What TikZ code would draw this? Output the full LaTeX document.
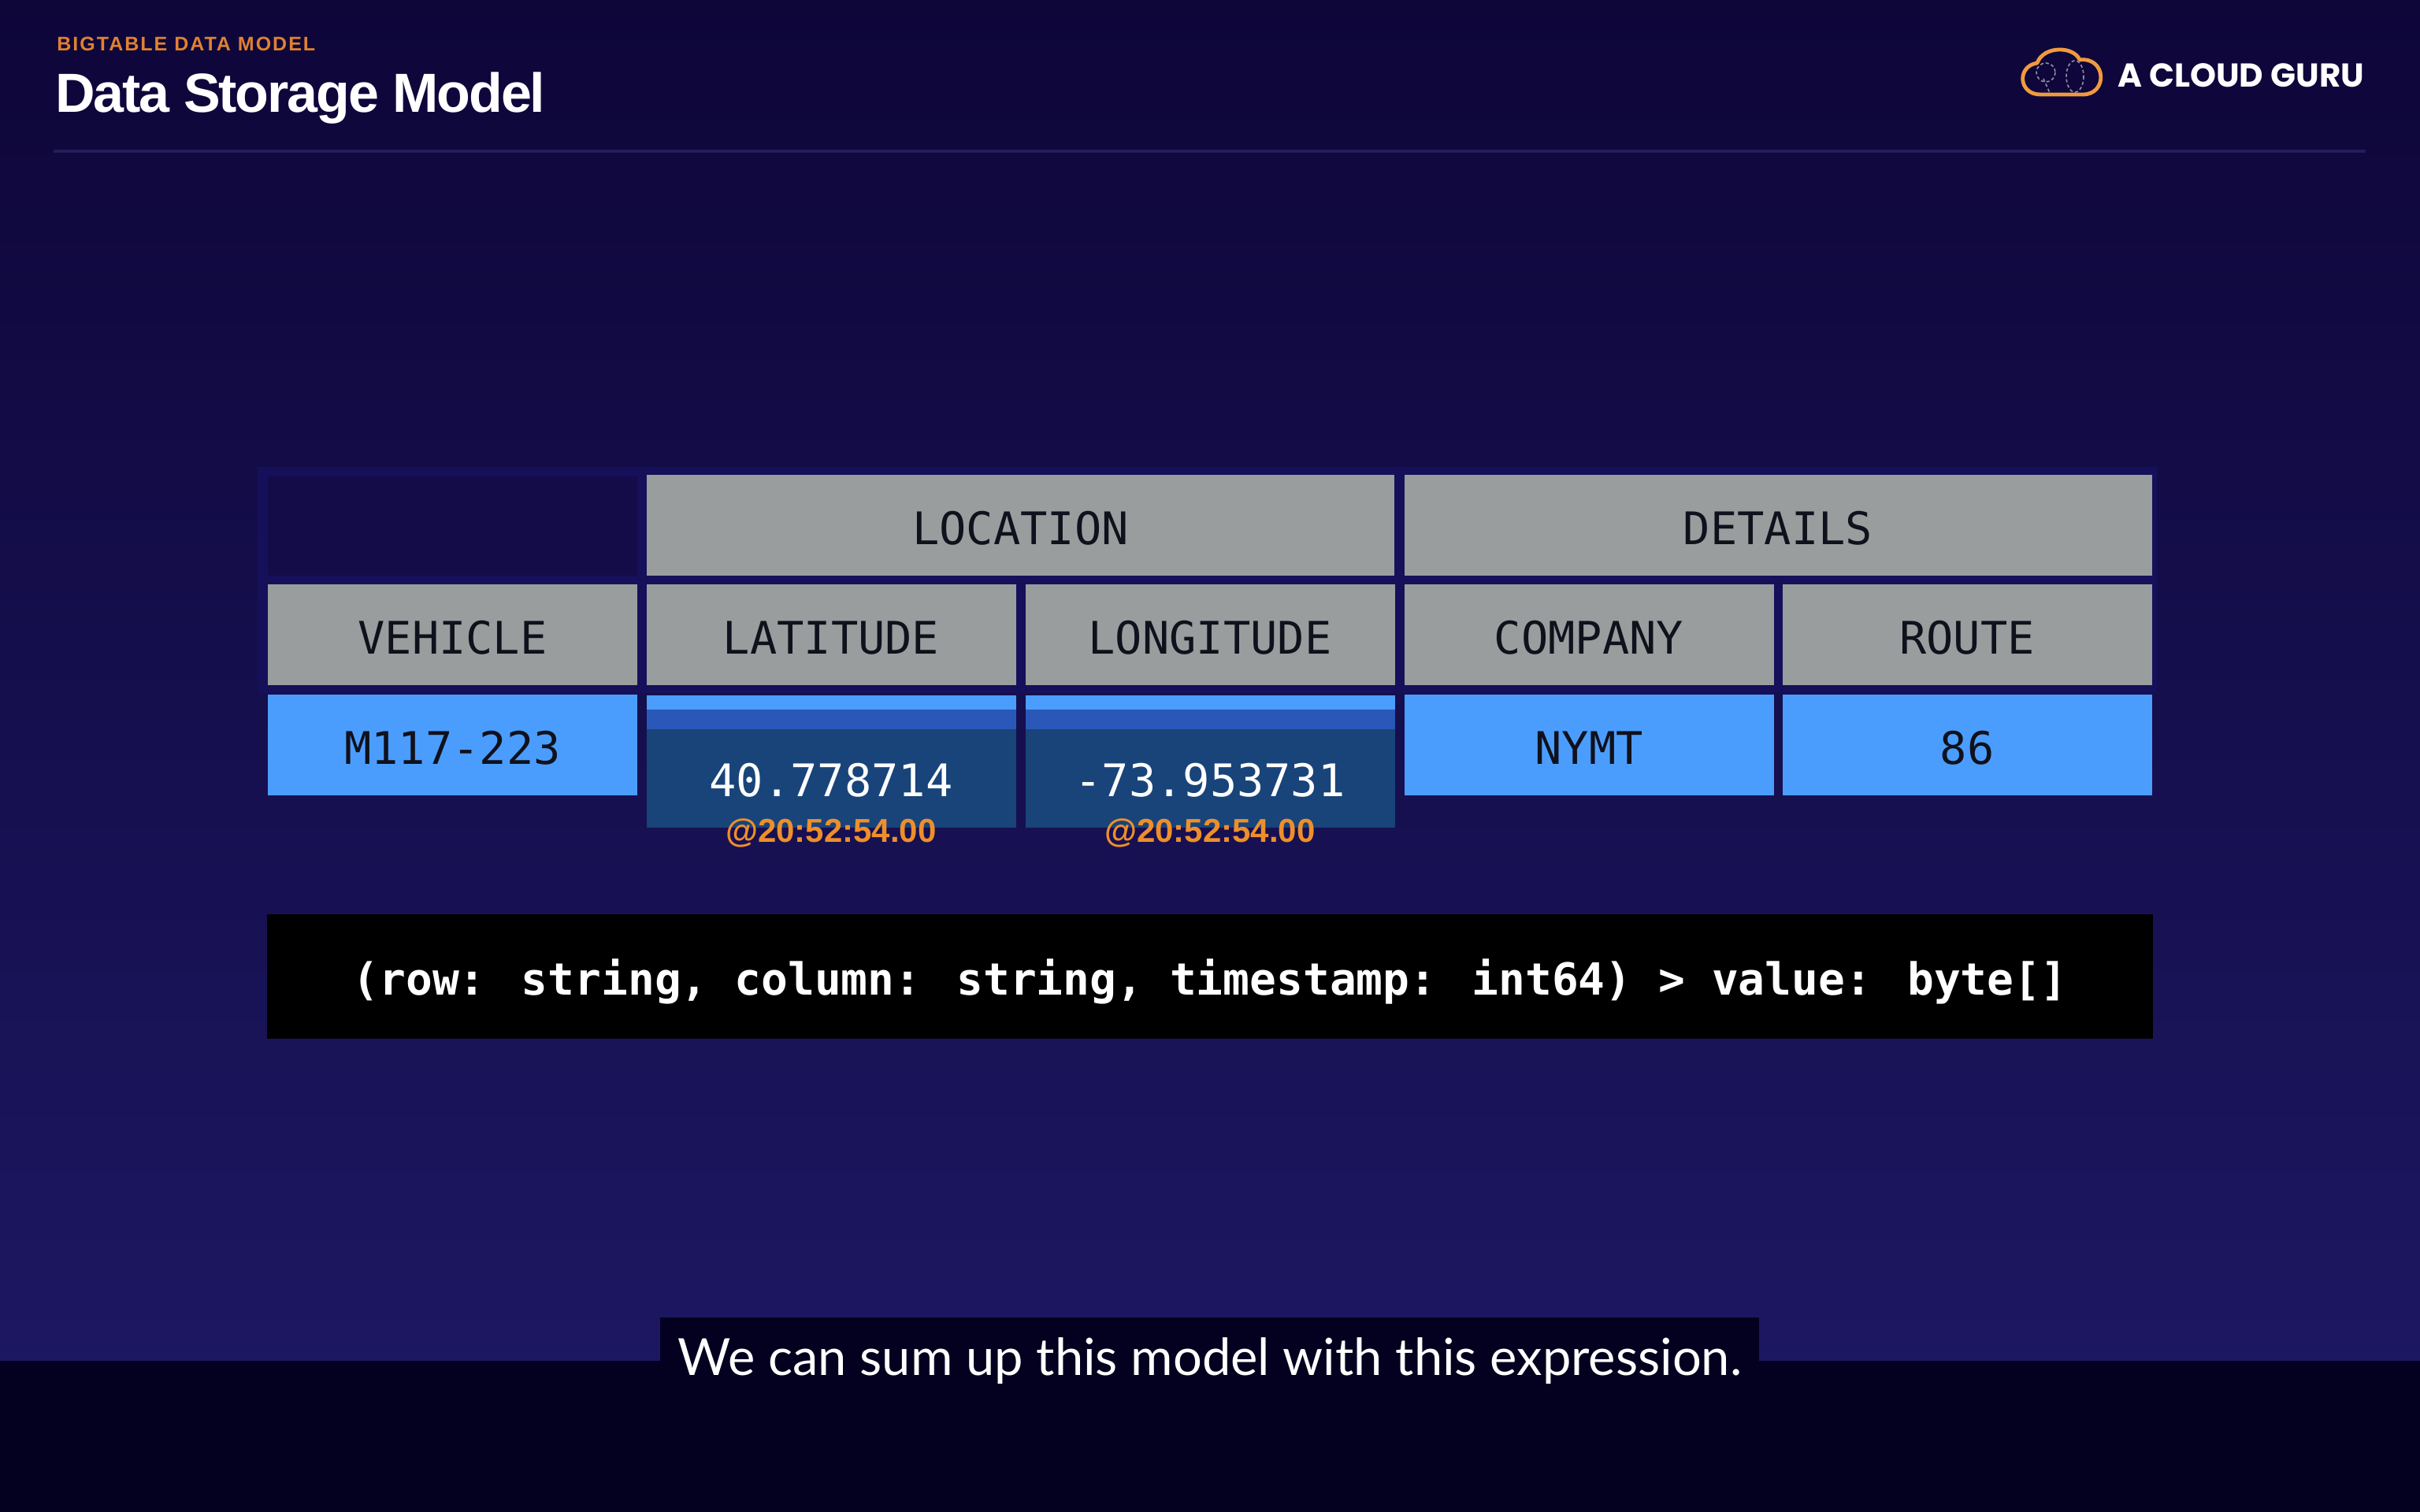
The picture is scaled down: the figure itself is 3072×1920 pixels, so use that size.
\documentclass[tikz,border=0pt]{standalone}
\usepackage{fontspec}
\setmainfont{Liberation Sans}
\newfontfamily\monof{DejaVu Sans Mono}
\newfontfamily\titlef[LetterSpace=-3]{Liberation Sans}
\newfontfamily\kickerf[LetterSpace=8]{Liberation Sans}
\newfontfamily\logof{Poppins}
\newfontfamily\capf{Lato}
\usetikzlibrary{calc}
\definecolor{bgtop}{HTML}{0E0639}
\definecolor{bgbot}{HTML}{1C1761}
\definecolor{band}{HTML}{03011F}
\definecolor{rulec}{HTML}{231E58}
\definecolor{hdr}{HTML}{9A9D9D}
\definecolor{cellblue}{HTML}{4B9DFD}
\definecolor{midblue}{HTML}{2A58B8}
\definecolor{deepblue}{HTML}{18447A}
\definecolor{ink}{HTML}{10111C}
\definecolor{orangec}{HTML}{EE8F2B}
\definecolor{kicker}{HTML}{E08130}
\definecolor{emptycell}{HTML}{130C48}
\definecolor{panel}{HTML}{16105A}
\tikzset{
  x=0.5pt,y=-0.5pt,
  cell/.style={inner sep=0pt,outer sep=0pt,minimum height=64pt,font=\monof\fontsize{28.5}{34}\selectfont,text height=24pt,text depth=0pt},
  head/.style={cell,fill=hdr,text=ink},
  val/.style={cell,fill=cellblue,text=ink},
  wide/.style={minimum width=474.5pt},
  single/.style={minimum width=234.5pt},
  stamp/.style={inner sep=0pt,text=orangec,font=\bfseries\fontsize{21}{25}\selectfont},
  strip/.style={inner sep=0pt,outer sep=0pt,minimum width=234.5pt},
}
\begin{document}
\begin{tikzpicture}
\useasboundingbox (0,0) rectangle (3072,1920);
\shade[top color=bgtop,bottom color=bgbot] (0,0) rectangle (3072,1728);
\fill[band] (0,1728) rectangle (3072,1920);
% header
\node[anchor=west,inner sep=0pt,text=kicker,font=\kickerf\bfseries\fontsize{12.5}{15}\selectfont] (kick) at (72,56) {BIGTABLE DATA MODEL};
\node[anchor=west,inner sep=0pt,text=white,font=\titlef\bfseries\fontsize{35}{42}\selectfont] (title) at (70,125) {Data Storage Model};
\coordinate (ruleL) at (68,192);
\coordinate (ruleR) at (3003,192);
\draw[rulec,line width=2pt] (ruleL) -- (ruleR);
% logo
\draw[orangec!90!white,line width=2.4pt,line join=round]
  (2590,120) .. controls (2562,120) and (2560,84) .. (2586,80)
  .. controls (2594,58) and (2632,58) .. (2640,76)
  .. controls (2674,72) and (2676,120) .. (2644,120) -- cycle;
\draw[white!55!bgtop,line width=.8pt,dash pattern=on 2pt off 1.5pt] (2634,97) ellipse (11 and 20);
\draw[white!55!bgtop,line width=.8pt,dash pattern=on 2pt off 1.5pt] (2597,92) circle (12);
\draw[white!55!bgtop,line width=.8pt,dash pattern=on 2pt off 1.5pt] (2594,100) -- (2602,118);
\node[anchor=west,inner sep=0pt,text=white,font=\logof\bfseries\fontsize{21}{25}\selectfont] (logo) at (2688,96) {A CLOUD GURU};
% table
\fill[panel] (327,593) rectangle (2738,880);
\node[inner sep=0pt,minimum width=234.5pt,minimum height=63pt,fill=emptycell] (blank) at (574.5,668) {};
\node[head,wide] (loc) at (1295.5,667) {LOCATION};
\node[head,wide] (det) at (2257,667) {DETAILS};
\node[head,single] (veh) at (574.5,806) {VEHICLE};
\node[head,single] (lat) at (1055,806) {LATITUDE};
\node[head,single] (lon) at (1536,806) {LONGITUDE};
\node[head,single] (com) at (2017,806) {COMPANY};
\node[head,single] (rou) at (2497,806) {ROUTE};
\node[val,single] (v1) at (574.5,946) {M117-223};
\node[val,single] (v4) at (2017,946) {NYMT};
\node[val,single] (v5) at (2497,946) {86};
% stacked value cells
\node[strip,fill=cellblue,minimum height=9pt] (lata) at (1055,892) {};
\node[strip,fill=midblue,minimum height=12.5pt] (latb) at (1055,913) {};
\node[strip,fill=deepblue,minimum height=62.5pt] (latc) at (1055,988) {};
\node[strip,fill=cellblue,minimum height=9pt] (lona) at (1536,892) {};
\node[strip,fill=midblue,minimum height=12.5pt] (lonb) at (1536,913) {};
\node[strip,fill=deepblue,minimum height=62.5pt] (lonc) at (1536,988) {};
\node[inner sep=0pt,text=white,font=\monof\fontsize{28.5}{34}\selectfont] (latv) at (1055,991) {40.778714};
\node[inner sep=0pt,text=white,font=\monof\fontsize{28.5}{34}\selectfont] (lonv) at (1536,991) {-73.953731};
\node[stamp] (lats) at (1055,1058) {@20:52:54.00};
\node[stamp] (lons) at (1536,1058) {@20:52:54.00};
% expression
\node[inner sep=0pt,minimum width=1197pt,minimum height=79pt,fill=black] (expr) at (1536,1240) {};
\node[inner sep=0pt,text=white,font=\monof\bfseries\fontsize{28.1}{34}\selectfont] (exprt) at (1536,1246) {(row: string, column: string, timestamp: int64) > value: byte[]};
% caption
\node[inner sep=0pt,minimum width=697.5pt,minimum height=27.5pt,fill=band] (capbox) at (1535.5,1700.5) {};
\node[inner sep=0pt,text=white,font=\capf\fontsize{32.5}{38}\selectfont] (cap) at (1536,1728) {We can sum up this model with this expression.};
\end{tikzpicture}
\end{document}
